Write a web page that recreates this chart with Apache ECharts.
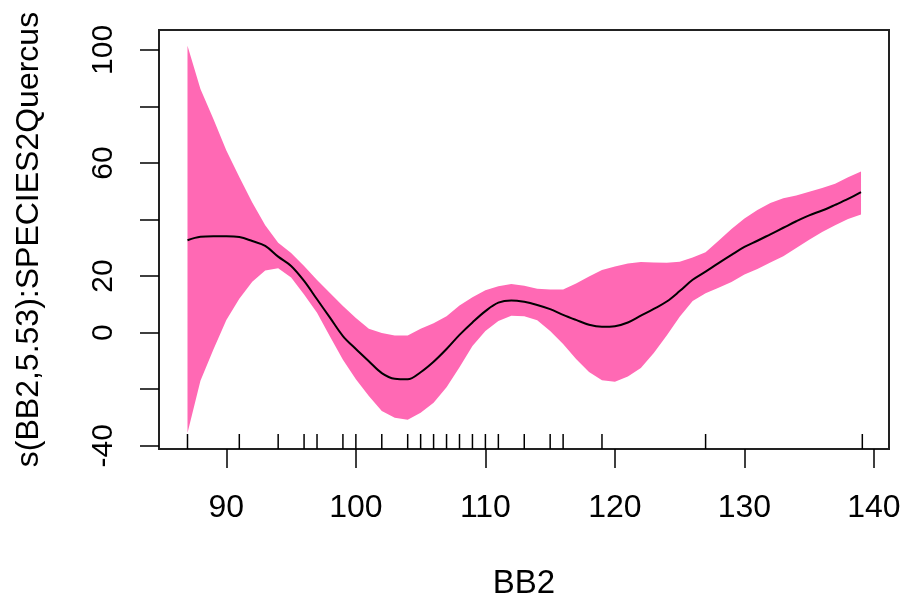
<!DOCTYPE html>
<html>
<head>
<meta charset="utf-8">
<script src="https://cdn.jsdelivr.net/npm/echarts@6/dist/echarts.min.js"></script>
<style>
  html, body { margin: 0; padding: 0; background: #fff; }
  #chart { width: 904px; height: 605px; }
</style>
</head>
<body>
<div id="chart"></div>
<script>
// GAM smooth term s(BB2) for Quercus with its confidence band and data rug
const bb2 = [87, 88, 89, 90, 91, 92, 93, 94, 95, 96, 97, 98, 99, 100, 101, 102, 103, 104, 105, 106,
  107, 108, 109, 110, 111, 112, 113, 114, 115, 116, 117, 118, 119, 120, 121, 122, 123, 124, 125, 126,
  127, 128, 129, 130, 131, 132, 133, 134, 135, 136, 137, 138, 139];

const fit = [32.7, 33.9, 34.1, 34.1, 33.8, 32.4, 30.7, 26.9, 23.6, 18.3, 11.8, 5.3, -1.2, -5.8, -10.1, -14.3, -16.3, -16.5, -14.0, -10.3,
  -5.8, -0.8, 3.6, 7.6, 10.6, 11.4, 10.9, 9.8, 8.3, 6.3, 4.5, 2.8, 2.1, 2.3, 3.6, 6.0, 8.4, 11.0, 14.7, 18.7,
  21.6, 24.6, 27.5, 30.3, 32.5, 34.8, 37.1, 39.4, 41.5, 43.2, 45.2, 47.3, 49.7];

const upper = [101.5, 86.2, 75.6, 64.4, 55.1, 46.0, 38.0, 31.8, 28.2, 23.6, 18.6, 14.0, 9.4, 5.2, 1.4, -0.1, -1.0, -1.0, 1.4, 3.3,
  5.8, 9.6, 12.5, 15.0, 16.4, 17.2, 16.6, 15.5, 15.3, 15.3, 17.4, 19.9, 22.2, 23.4, 24.5, 25.0, 24.8, 24.7, 25.1, 26.6,
  28.4, 32.5, 36.7, 40.4, 43.4, 45.9, 47.5, 48.5, 49.8, 51.2, 52.7, 55.0, 57.0];

const lower = [-35.5, -17.0, -6.0, 4.5, 12.0, 18.0, 22.0, 22.8, 19.5, 13.5, 7.0, -1.4, -9.6, -16.5, -22.4, -27.7, -30.1, -30.8, -28.3, -24.8,
  -19.3, -12.2, -4.7, 0.6, 4.1, 6.0, 5.8, 4.4, 0.6, -4.0, -9.3, -13.9, -16.8, -17.4, -15.5, -12.5, -7.2, -1.0, 5.6, 11.2,
  13.9, 15.9, 17.9, 20.6, 22.5, 24.8, 27.0, 29.9, 32.9, 35.6, 38.0, 40.2, 41.8];

// observed BB2 values drawn as a rug along the bottom
const rug = [87, 91, 94, 96, 97, 99, 100, 102, 104, 105, 106, 107, 108, 109, 110, 111, 113, 115, 116, 119, 127, 139.1];

const xTicks = [90, 100, 110, 120, 130, 140];
const yTicks = [-40, -20, 0, 20, 40, 60, 80, 100];
const yLabels = [-40, 0, 20, 60, 100];

const xRange = [84.8, 141.16];
const yRange = [-41.16, 107.06];

const font = 'Liberation Sans, Arial, sans-serif';
const chart = echarts.init(document.getElementById('chart'), null, { renderer: 'canvas' });

chart.setOption({
  animation: false,
  backgroundColor: '#fff',
  grid: {
    left: 159, top: 30, width: 730, height: 420,
    show: true, borderColor: '#222', borderWidth: 2, backgroundColor: 'transparent'
  },
  xAxis: {
    type: 'value', min: xRange[0], max: xRange[1],
    name: 'BB2', nameLocation: 'middle', nameGap: 118,
    nameTextStyle: { fontSize: 33, color: '#000', fontFamily: font },
    axisLine: { show: false, onZero: false },
    axisTick: { show: true, customValues: xTicks, length: 19, lineStyle: { color: '#000', width: 1.5 } },
    axisLabel: { customValues: xTicks, fontSize: 32, color: '#000', margin: 43, fontFamily: font },
    splitLine: { show: false }
  },
  yAxis: {
    type: 'value', min: yRange[0], max: yRange[1],
    name: 's(BB2,5.53):SPECIES2Quercus', nameLocation: 'middle', nameGap: 114, nameRotate: 90,
    nameTextStyle: { fontSize: 32, color: '#000', fontFamily: font },
    axisLine: { show: false, onZero: false },
    axisTick: { show: true, customValues: yTicks, length: 19, lineStyle: { color: '#000', width: 1.5 } },
    axisLabel: { customValues: yLabels, rotate: 90, fontSize: 30, color: '#000', margin: 40, fontFamily: font },
    splitLine: { show: false }
  },
  series: [
    {
      // shaded confidence band: upper edge left to right, lower edge back
      type: 'custom',
      clip: true,
      data: bb2.map((x, i) => [x, lower[i], upper[i]]),
      encode: { x: 0, y: [1, 2] },
      renderItem: function (params, api) {
        if (params.dataIndex !== 0) return null;
        const pts = [];
        for (let i = 0; i < bb2.length; i++) pts.push(api.coord([bb2[i], upper[i]]));
        for (let i = bb2.length - 1; i >= 0; i--) pts.push(api.coord([bb2[i], lower[i]]));
        return { type: 'polygon', shape: { points: pts }, style: { fill: '#FF69B4', stroke: null } };
      },
      z: 1
    },
    {
      type: 'line',
      data: bb2.map((x, i) => [x, fit[i]]),
      symbol: 'none',
      smooth: 0.35,
      lineStyle: { color: '#000', width: 2 },
      z: 3
    },
    {
      type: 'custom',
      clip: false,
      data: rug.map(v => [v, yRange[0]]),
      renderItem: function (params, api) {
        const p = api.coord([api.value(0), yRange[0]]);
        return {
          type: 'line',
          shape: { x1: p[0], y1: p[1], x2: p[0], y2: p[1] - 15 },
          style: { stroke: '#000', lineWidth: 1.5 }
        };
      },
      z: 4
    }
  ]
});
</script>
</body>
</html>
